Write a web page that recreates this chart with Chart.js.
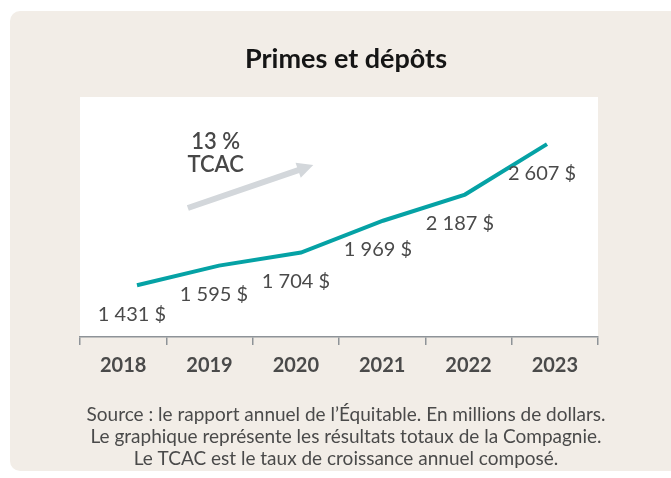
<!DOCTYPE html>
<html lang="fr">
<head>
<meta charset="utf-8">
<title>Primes et dépôts</title>
<script src="https://cdn.jsdelivr.net/npm/chart.js@4.4.1/dist/chart.umd.min.js"></script>
<style>
  html, body { margin: 0; padding: 0; background: #fff; }
  #zone { width: 671px; height: 478px; position: relative; }
</style>
</head>
<body>
<div id="zone"><canvas id="can"></canvas></div>
<script>
// donnees
const annees = ['2018', '2019', '2020', '2021', '2022', '2023']
const primes = [1431, 1595, 1704, 1969, 2187, 2607]

const titre = 'Primes et dépôts'
const notes = [
    'Source : le rapport annuel de l’Équitable. En millions de dollars.',
    'Le graphique représente les résultats totaux de la Compagnie.',
    'Le TCAC est le taux de croissance annuel composé.'
]
const tcacTexte = ['13 %', 'TCAC']

// fleche et texte du TCAC en unites du graphique (indice d'annee, valeur)
const flecheDebut = [0.62, 2075]
const flecheFin = [2.15, 2433]
const tcacPos = [0.96, 2627]

function formatMontant(v) {
    return v.toString().replace(/\B(?=(\d{3})+(?!\d))/g, ' ') + ' $'
}

const fond = {
    id: 'fond',
    beforeDraw(chart) {
        const ctx = chart.ctx
        const a = chart.chartArea
        ctx.save()
        ctx.fillStyle = '#ffffff'
        ctx.fillRect(0, 0, chart.width, chart.height)
        ctx.fillStyle = '#f2ede7'
        ctx.beginPath()
        ctx.roundRect(10, 11, chart.width + 20, 460, 10)
        ctx.fill()
        ctx.fillStyle = '#ffffff'
        ctx.fillRect(a.left, a.top, a.right - a.left, a.bottom - a.top)

        // titre
        ctx.fillStyle = '#151515'
        ctx.font = 'bold 27px Lato'
        ctx.textAlign = 'center'
        ctx.textBaseline = 'middle'
        ctx.fillText(titre, 346, 59)

        // notes du bas
        ctx.fillStyle = '#4a4a4a'
        ctx.font = '19px Lato'
        notes.forEach((ligne, i) => {
            ctx.fillText(ligne, 346, 415 + i * 22)
        })
        ctx.restore()
    }
}

const annotations = {
    id: 'annotations',
    afterDatasetsDraw(chart) {
        const ctx = chart.ctx
        const sx = chart.scales.xl
        const sy = chart.scales.y
        ctx.save()

        // fleche grise
        let x0 = sx.getPixelForValue(flecheDebut[0]), y0 = sy.getPixelForValue(flecheDebut[1])
        let x1 = sx.getPixelForValue(flecheFin[0]), y1 = sy.getPixelForValue(flecheFin[1])
        let ang = Math.atan2(y1 - y0, x1 - x0)
        let tete = 16
        let xb = x1 - Math.cos(ang) * tete, yb = y1 - Math.sin(ang) * tete
        ctx.strokeStyle = '#d3d7db'
        ctx.fillStyle = '#d3d7db'
        ctx.lineWidth = 6
        ctx.beginPath()
        ctx.moveTo(x0, y0)
        ctx.lineTo(xb + Math.cos(ang), yb + Math.sin(ang))
        ctx.stroke()
        ctx.beginPath()
        ctx.moveTo(x1, y1)
        ctx.lineTo(xb + Math.sin(ang) * 8, yb - Math.cos(ang) * 8)
        ctx.lineTo(xb - Math.sin(ang) * 8, yb + Math.cos(ang) * 8)
        ctx.closePath()
        ctx.fill()

        // texte TCAC
        ctx.fillStyle = '#474747'
        ctx.font = '600 22px Lato'
        ctx.textAlign = 'center'
        ctx.textBaseline = 'middle'
        let tx = sx.getPixelForValue(tcacPos[0]), ty = sy.getPixelForValue(tcacPos[1])
        tcacTexte.forEach((t, i) => ctx.fillText(t, tx, ty + i * 23))

        // etiquettes des valeurs
        ctx.fillStyle = '#4a4a4a'
        ctx.font = '20px Lato'
        const meta = chart.getDatasetMeta(0)
        meta.data.forEach((pt, i) => {
            ctx.fillText(formatMontant(primes[i]), pt.x - 5, pt.y + 29)
        })
        ctx.restore()
    }
}

function dessiner() {
    let grapharea = document.getElementById('can')

    const data = {
        labels: annees,
        datasets: [{
            label: titre,
            data: primes.map((v, i) => ({ x: i, y: v })),
            xAxisID: 'xl',
            yAxisID: 'y',
            borderColor: '#05a2a5',
            borderWidth: 4,
            pointRadius: 0,
            tension: 0,
            fill: false
        }]
    }

    const config = {
        type: 'line',
        data,
        options: {
            responsive: true,
            maintainAspectRatio: false,
            animation: false,
            layout: { padding: { left: 80, right: 73, top: 97, bottom: 101 } },
            plugins: {
                legend: { display: false },
                tooltip: { enabled: false },
                title: { display: false }
            },
            scales: {
                x: {
                    type: 'category',
                    position: 'bottom',
                    offset: true,
                    grid: {
                        offset: true,
                        drawOnChartArea: false,
                        drawTicks: true,
                        tickLength: 8,
                        color: '#8e9398',
                        lineWidth: 1.5
                    },
                    border: { display: true, color: '#8e9398', width: 1.5 },
                    ticks: {
                        color: '#4a4a4a',
                        padding: 9,
                        font: { family: 'Lato', size: 20, weight: 'bold' }
                    },
                    afterFit(s) { s.height = 40 }
                },
                xl: {
                    type: 'linear',
                    display: false,
                    min: -0.695,
                    max: 5.622
                },
                y: {
                    display: false,
                    min: 1000,
                    max: 3000
                }
            }
        },
        plugins: [fond, annotations]
    }

    new Chart(grapharea, config)
}

Promise.all([
    document.fonts.load('bold 27px Lato'),
    document.fonts.load('20px Lato'),
    document.fonts.load('600 22px Lato')
]).then(dessiner, dessiner)
</script>
</body>
</html>
